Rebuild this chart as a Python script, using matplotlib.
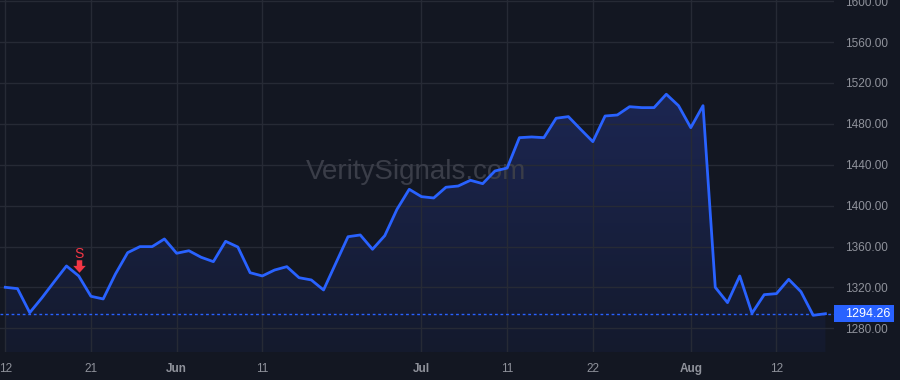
import numpy as np
import pandas as pd
import matplotlib
matplotlib.use("Agg")
import matplotlib.pyplot as plt
from matplotlib.patches import Polygon, Rectangle
from matplotlib.path import Path
from matplotlib.colors import LinearSegmentedColormap

# US trading days, 12 May - 18 Aug 2025
holidays = ["2025-05-26", "2025-06-19", "2025-07-04"]
dates = pd.bdate_range("2025-05-12", "2025-08-18", freq="C", holidays=holidays)

close = [1320.1, 1318.8, 1295.3, 1309.9, 1325.6, 1341.0, 1331.2, 1311.3, 1308.7, 1333.1,
         1354.0, 1359.9, 1359.9, 1367.4, 1353.4, 1355.9, 1349.5, 1345.2, 1365.1, 1359.5,
         1334.4, 1331.2, 1337.0, 1340.3, 1329.5, 1327.3, 1317.5, 1343.6, 1369.6, 1371.3,
         1357.3, 1370.6, 1396.4, 1416.0, 1408.8, 1407.5, 1418.0, 1419.2, 1424.8, 1421.5,
         1433.9, 1436.8, 1466.5, 1467.2, 1466.5, 1485.5, 1487.1, 1474.7, 1462.6, 1487.7,
         1488.7, 1496.8, 1495.9, 1495.9, 1509.0, 1497.8, 1476.3, 1497.8, 1320.1, 1305.1,
         1331.2, 1294.7, 1312.9, 1313.9, 1327.9, 1315.8, 1292.7, 1294.26]
last_price = 1294.26
sell_signal_date = "2025-05-20"

tick_dates = ["2025-05-12", "2025-05-21", "2025-06-02", "2025-06-11", "2025-07-01",
              "2025-07-11", "2025-07-22", "2025-08-01", "2025-08-12"]
tick_labels = ["12", "21", "Jun", "11", "Jul", "11", "22", "Aug", "12"]
month_labels = {"Jun", "Jul", "Aug"}
y_ticks = [1280, 1320, 1360, 1400, 1440, 1480, 1520, 1560, 1600]

bg = "#131722"
grid_c = "#262a35"
line_c = "#2962ff"
text_c = "#8f929b"
sell_c = "#f23645"

plt.rcParams["font.family"] = ["Liberation Sans", "DejaVu Sans"]

fig = plt.figure(figsize=(9, 3.8), dpi=100, facecolor=bg)
ax = fig.add_axes([0, 28 / 380, 834 / 900, 352 / 380], facecolor=bg)

x = np.arange(len(close))
y = np.array(close)
ymin, ymax = 1256.8, 1601.2
ax.set_xlim(-0.43, 67.7)
ax.set_ylim(ymin, ymax)

# gradient area fill under the line
grad = np.linspace(0, 1, 256).reshape(-1, 1)
cmap = LinearSegmentedColormap.from_list("g", ["#141a2d", "#1c2652"])
img = ax.imshow(grad, cmap=cmap, aspect="auto", origin="lower",
                extent=[x[0], x[-1], ymin, y.max()], zorder=1)
poly = Polygon(np.column_stack([np.r_[x[0], x, x[-1]], np.r_[ymin, y, ymin]]),
               closed=True, facecolor="none", edgecolor="none")
ax.add_patch(poly)
img.set_clip_path(poly)

ax.plot(x, y, color=line_c, lw=2, zorder=3, solid_joinstyle="round")

# last price line + label box on the price scale
ax.axhline(last_price, color=line_c, lw=1, ls=(0, (2, 2)), zorder=2)
yf = ax.transData.transform((0, last_price))[1] / 380
fig.patches.append(Rectangle((834 / 900, yf - 8.5 / 380), 60 / 900, 17 / 380,
                             transform=fig.transFigure, fc=line_c, ec="none", zorder=5))
fig.text(845 / 900, yf, f"{last_price:.2f}", ha="left", va="center",
         color="white", fontsize=9, zorder=6)

# sell signal marker: block arrow pointing down
arrow = Path([(-0.22, 0.5), (0.22, 0.5), (0.22, 0.05), (0.5, 0.05), (0, -0.5),
              (-0.5, 0.05), (-0.22, 0.05), (-0.22, 0.5)], closed=True)
si = list(dates.strftime("%Y-%m-%d")).index(sell_signal_date)
ax.plot([si], [close[si] + 9.5], marker=arrow, ms=9, color=sell_c, mec="none", zorder=4)
ax.text(si, close[si] + 15, "S", color=sell_c, fontsize=10, ha="center", va="bottom", zorder=4)

# watermark
ax.text(0.4985, 0.51, "VeritySignals.com", transform=ax.transAxes, ha="center", va="center",
        fontsize=20, color="#3a3d48", zorder=2)

# axes styling
date_str = list(dates.strftime("%Y-%m-%d"))
ax.set_xticks([date_str.index(d) for d in tick_dates])
ax.set_xticklabels(tick_labels)
for lbl in ax.get_xticklabels():
    if lbl.get_text() in month_labels:
        lbl.set_fontweight("bold")
ax.set_yticks(y_ticks)
ax.set_yticklabels([f"{v:.2f}" for v in y_ticks])
ax.yaxis.tick_right()
ax.tick_params(axis="both", length=0, colors=text_c, labelsize=8.5)
ax.tick_params(axis="y", pad=8)
ax.tick_params(axis="x", pad=8)
ax.grid(True, color=grid_c, lw=1, zorder=0)
for s in ax.spines.values():
    s.set_visible(False)

fig.savefig("out.png", dpi=100, facecolor=bg)
